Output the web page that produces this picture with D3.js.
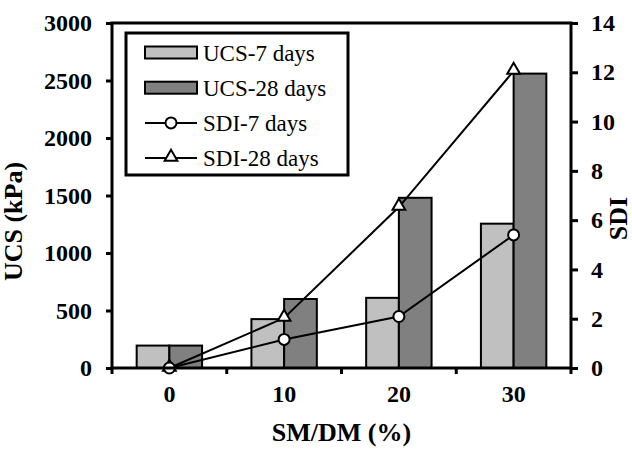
<!DOCTYPE html>
<html>
<head>
<meta charset="utf-8">
<script src="https://cdn.jsdelivr.net/npm/d3@7"></script>
<style>
	body { margin: 0; background: #fff; }
	svg text { font-family: "Liberation Serif", "Times New Roman", serif !important; }
</style>
</head>
<body>
<script>
const categories = ["0", "10", "20", "30"];
const ucs7 = [195, 425, 610, 1255];
const ucs28 = [195, 600, 1480, 2560];
const sdi7 = [0, 1.16, 2.09, 5.4];
const sdi28 = [0, 2.03, 6.53, 12.05];
const ucsTicks = [0, 500, 1000, 1500, 2000, 2500, 3000];
const sdiTicks = [0, 2, 4, 6, 8, 10, 12, 14];

var margin = {top: 23, right: 61, bottom: 82, left: 112},
	width = 632 - margin.left - margin.right,
	height = 450 - margin.top - margin.bottom;

var svg = d3.select("body").append("svg")
	.attr("width", 632)
	.attr("height", 450)
	.append("g")
		.attr("transform", "translate(" + margin.left + "," + margin.top + ")");

var x = d3.scaleBand()
	.domain(categories)
	.range([0, width]);
var half = x.bandwidth() * 0.285;
var x1 = d3.scaleBand()
	.domain(["7", "28"])
	.range([-half, half]);
var y = d3.scaleLinear()
	.domain([0, 3000])
	.range([height, 0]);
var y2 = d3.scaleLinear()
	.domain([0, 14])
	.range([height, 0]);

var cx = d => x(d) + x.bandwidth() / 2;

// bars
var series = [
	{key: "7", values: ucs7, fill: "#c0c0c0"},
	{key: "28", values: ucs28, fill: "#808080"}
];
series.forEach(s => {
	svg.selectAll(".bar" + s.key)
		.data(categories)
		.enter().append("rect")
			.attr("x", d => cx(d) + x1(s.key))
			.attr("width", x1.bandwidth())
			.attr("y", (d, i) => y(s.values[i]))
			.attr("height", (d, i) => height - y(s.values[i]))
			.attr("fill", s.fill)
			.attr("stroke", "#000")
			.attr("stroke-width", 2);
});

// lines
var line = d3.line()
	.x((d, i) => cx(categories[i]))
	.y(d => y2(d));
[sdi7, sdi28].forEach(vals => {
	svg.append("path")
		.datum(vals)
		.attr("fill", "none")
		.attr("stroke", "#000")
		.attr("stroke-width", 2)
		.attr("d", line);
});

var tri = d3.symbol().type(d3.symbolTriangle).size(70);
svg.selectAll(".tri")
	.data(sdi28)
	.enter().append("path")
		.attr("d", tri)
		.attr("transform", (d, i) => "translate(" + cx(categories[i]) + "," + (y2(d) - 1) + ")")
		.attr("fill", "#fff")
		.attr("stroke", "#000")
		.attr("stroke-width", 2);
svg.selectAll(".circ")
	.data(sdi7)
	.enter().append("circle")
		.attr("cx", (d, i) => cx(categories[i]))
		.attr("cy", d => y2(d))
		.attr("r", 5.5)
		.attr("fill", "#fff")
		.attr("stroke", "#000")
		.attr("stroke-width", 2);

// axes
function styleAxis(g) {
	g.attr("font-family", null);
	g.selectAll(".domain").remove();
	g.selectAll(".tick line").attr("stroke", "#000").attr("stroke-width", 3);
	g.selectAll(".tick text")
		.attr("fill", "#000")
		.style("font-size", "24px")
		.style("font-weight", "bold");
}

svg.append("g")
	.call(d3.axisLeft(y).tickValues(ucsTicks).tickFormat(d3.format("d")).tickSize(6).tickPadding(14))
	.call(styleAxis);

svg.append("g")
	.attr("transform", "translate(" + width + ",0)")
	.call(d3.axisRight(y2).tickValues(sdiTicks).tickFormat(d3.format("d")).tickSize(7).tickPadding(13))
	.call(styleAxis);

svg.append("g")
	.attr("transform", "translate(0," + height + ")")
	.call(d3.axisBottom(x).tickSize(0).tickPadding(17))
	.call(styleAxis);

// x ticks at band edges
svg.selectAll(".xtick")
	.data(x.domain().map(d => x(d)).concat([width]))
	.enter().append("line")
		.attr("x1", d => d).attr("x2", d => d)
		.attr("y1", height).attr("y2", height + 6)
		.attr("stroke", "#000")
		.attr("stroke-width", 3);

// frame
svg.append("rect")
	.attr("width", width)
	.attr("height", height)
	.attr("fill", "none")
	.attr("stroke", "#000")
	.attr("stroke-width", 3);

// axis titles
svg.append("text")
	.attr("transform", "translate(-90," + (height / 2 + 26) + ") rotate(-90)")
	.attr("text-anchor", "middle")
	.style("font-size", "26px")
	.style("font-weight", "bold")
	.text("UCS (kPa)");

svg.append("text")
	.attr("transform", "translate(" + (width + 56) + "," + (height / 2 + 23) + ") rotate(-90)")
	.attr("text-anchor", "middle")
	.style("font-size", "26px")
	.style("font-weight", "bold")
	.text("SDI");

svg.append("text")
	.attr("x", width / 2)
	.attr("y", height + 73)
	.attr("text-anchor", "middle")
	.style("font-size", "26px")
	.style("font-weight", "bold")
	.text("SM/DM (%)");

// legend
var legend = svg.append("g")
	.attr("transform", "translate(" + (126 - margin.left) + "," + (33 - margin.top) + ")");
legend.append("rect")
	.attr("width", 222)
	.attr("height", 142)
	.attr("fill", "#fff")
	.attr("stroke", "#000")
	.attr("stroke-width", 3);

var legendItems = [
	{label: "UCS-7 days", type: "bar", fill: "#c0c0c0"},
	{label: "UCS-28 days", type: "bar", fill: "#808080"},
	{label: "SDI-7 days", type: "circle"},
	{label: "SDI-28 days", type: "tri"}
];
legendItems.forEach((d, i) => {
	var g = legend.append("g")
		.attr("transform", "translate(19," + (19.5 + i * 35.2) + ")");
	if (d.type === "bar") {
		g.append("rect")
			.attr("y", -6)
			.attr("width", 52)
			.attr("height", 12)
			.attr("fill", d.fill)
			.attr("stroke", "#000")
			.attr("stroke-width", 2);
	} else {
		g.append("line")
			.attr("x1", 0).attr("x2", 52)
			.attr("stroke", "#000")
			.attr("stroke-width", 2);
		if (d.type === "circle") {
			g.append("circle")
				.attr("cx", 26)
				.attr("r", 5.5)
				.attr("fill", "#fff")
				.attr("stroke", "#000")
				.attr("stroke-width", 2);
		} else {
			g.append("path")
				.attr("d", tri)
				.attr("transform", "translate(26,-1)")
				.attr("fill", "#fff")
				.attr("stroke", "#000")
				.attr("stroke-width", 2);
		}
	}
	g.append("text")
		.attr("x", 58)
		.attr("y", 8)
		.style("font-size", "23px")
		.text(d.label);
});
</script>
</body>
</html>
